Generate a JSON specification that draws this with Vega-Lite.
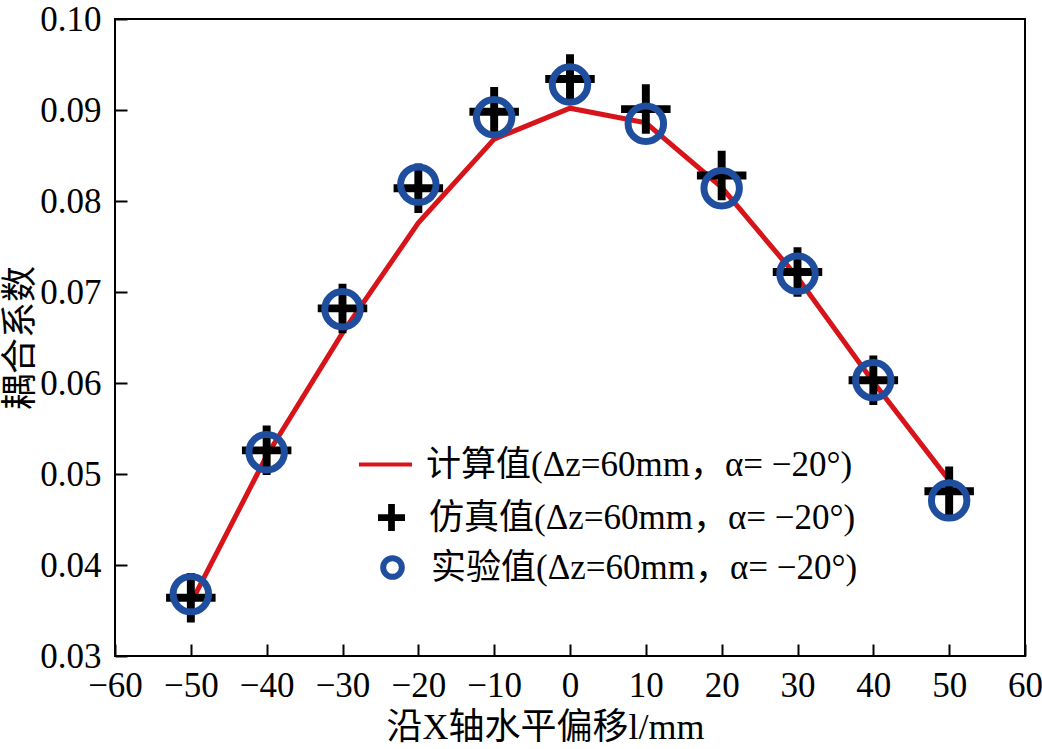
{
  "$schema": "https://vega.github.io/schema/vega-lite/v6.json",
  "autosize": "none",
  "width": 910,
  "height": 637,
  "padding": {"left": 115, "top": 19, "right": 17, "bottom": 93},
  "background": "white",
  "config": {
    "view": {"stroke": "black", "strokeWidth": 2},
    "axis": {
      "grid": false,
      "domain": false,
      "tickColor": "black",
      "tickWidth": 2,
      "tickSize": -12,
      "labelOverlap": false,
      "labelFlush": false,
      "labelFont": "Liberation Serif",
      "labelFontSize": 35,
      "labelColor": "black",
      "titleFont": "Liberation Serif, Noto Sans CJK SC",
      "titleFontSize": 36,
      "titleFontWeight": "normal",
      "titleColor": "black"
    },
    "legend": {
      "orient": "none",
      "title": null,
      "padding": 0,
      "labelFont": "Liberation Serif, Noto Sans CJK SC",
      "labelFontSize": 35,
      "labelColor": "black",
      "labelLimit": 800
    }
  },
  "data": {
    "values": [
      {"l": -50, "calc": 0.0358, "sim": 0.0364, "exp": 0.0368},
      {"l": -40, "calc": 0.0520, "sim": 0.0526, "exp": 0.0524},
      {"l": -30, "calc": 0.0655, "sim": 0.0682, "exp": 0.0681},
      {"l": -20, "calc": 0.0776, "sim": 0.0814, "exp": 0.0818},
      {"l": -10, "calc": 0.0868, "sim": 0.0898, "exp": 0.0892},
      {"l": 0, "calc": 0.0902, "sim": 0.0934, "exp": 0.0928},
      {"l": 10, "calc": 0.0886, "sim": 0.0901, "exp": 0.0885},
      {"l": 20, "calc": 0.0815, "sim": 0.0828, "exp": 0.0814},
      {"l": 30, "calc": 0.0716, "sim": 0.0722, "exp": 0.0720},
      {"l": 40, "calc": 0.0601, "sim": 0.0603, "exp": 0.0603},
      {"l": 50, "calc": 0.0493, "sim": 0.0481, "exp": 0.0471}
    ]
  },
  "encoding": {
    "x": {
      "field": "l",
      "type": "quantitative",
      "scale": {"domain": [-60, 60], "nice": false, "zero": false},
      "axis": {
        "values": [-60, -50, -40, -30, -20, -10, 0, 10, 20, 30, 40, 50, 60],
        "labelPadding": 24,
        "title": "沿X轴水平偏移l/mm",
        "titleX": 430,
        "titleY": 71,
        "titleBaseline": "middle"
      }
    }
  },
  "layer": [
    {
      "mark": {"type": "line", "strokeWidth": 5},
      "encoding": {
        "y": {
          "field": "calc",
          "type": "quantitative",
          "scale": {"domain": [0.03, 0.1], "nice": false, "zero": false},
          "axis": {
            "values": [0.03, 0.04, 0.05, 0.06, 0.07, 0.08, 0.09, 0.1],
            "format": ".2f",
            "labelPadding": 26,
            "title": "耦合系数",
            "titleX": -95,
            "titleBaseline": "middle"
          }
        },
        "stroke": {
          "datum": "计算值(Δz=60mm，α= −20°)",
          "scale": {"range": ["#d7141a"]},
          "legend": {
            "symbolType": "stroke",
            "symbolSize": 2809,
            "symbolStrokeWidth": 4,
            "symbolStrokeColor": "#d7141a",
            "labelOffset": 12,
            "legendX": 242,
            "legendY": 417
          }
        }
      }
    },
    {
      "mark": {"type": "point", "filled": true, "strokeWidth": 0, "opacity": 1, "size": 2450, "shape": "M-1,-0.16H1V0.16H-1Z M-0.16,-1H0.16V1H-0.16Z"},
      "encoding": {
        "y": {"field": "sim", "type": "quantitative"},
        "fill": {
          "datum": "仿真值(Δz=60mm，α= −20°)",
          "scale": {"range": ["#000000"]},
          "legend": {
            "symbolType": "M-1,-0.25H1V0.25H-1Z M-0.25,-1H0.25V1H-0.25Z",
            "symbolSize": 729,
            "symbolStrokeWidth": 0,
            "symbolFillColor": "#000000",
            "labelOffset": 20,
            "legendX": 259,
            "legendY": 481
          }
        }
      }
    },
    {
      "mark": {"type": "point", "filled": false, "shape": "circle", "strokeWidth": 7, "opacity": 1, "size": 1257},
      "encoding": {
        "y": {"field": "exp", "type": "quantitative"},
        "color": {
          "datum": "实验值(Δz=60mm，α= −20°)",
          "scale": {"range": ["#1f4e9e"]},
          "legend": {
            "symbolType": "circle",
            "symbolSize": 346,
            "symbolStrokeWidth": 6,
            "labelOffset": 21,
            "legendX": 260,
            "legendY": 531
          }
        }
      }
    }
  ]
}
